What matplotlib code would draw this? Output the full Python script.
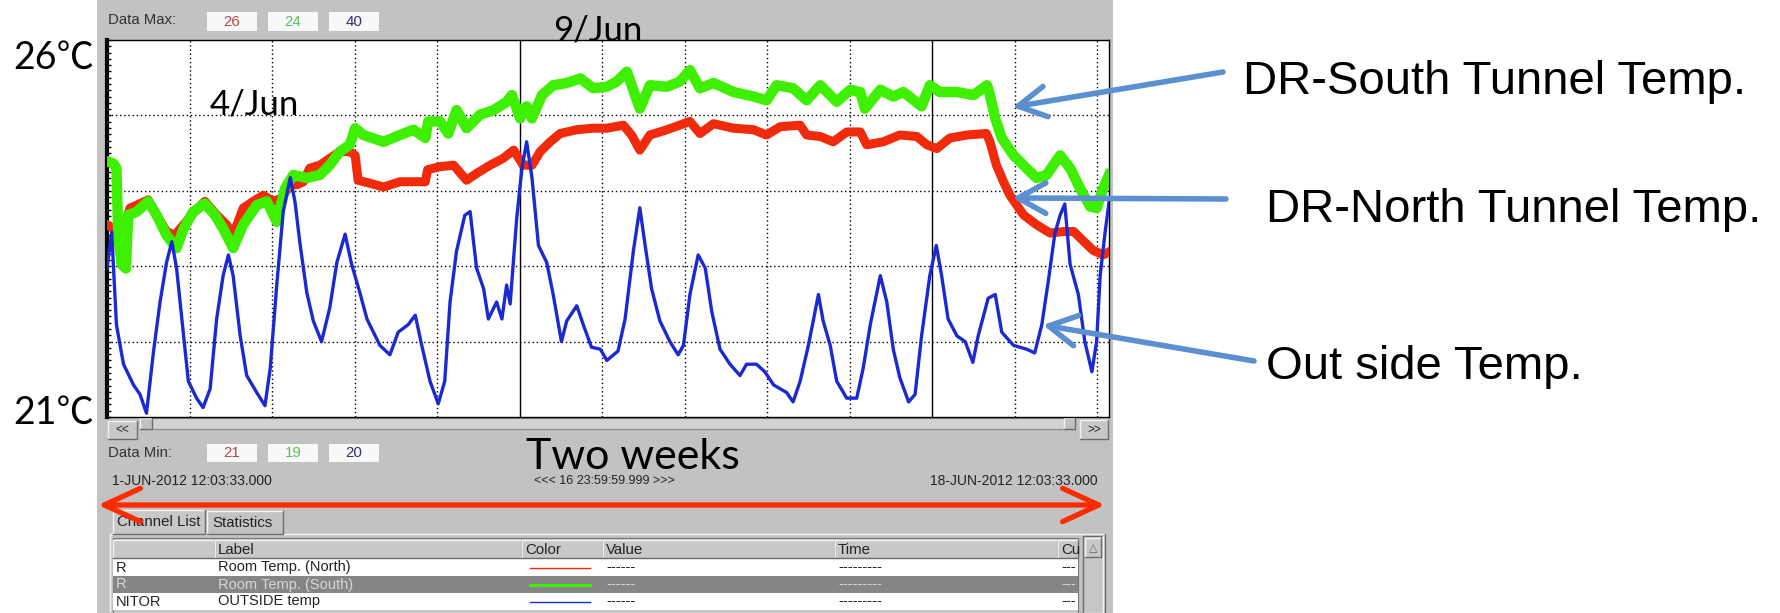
import matplotlib.pyplot as plt
from matplotlib.patches import Rectangle
import numpy as np

W, H = 1780, 613
plt.rcParams['font.family'] = ['Liberation Sans', 'DejaVu Sans']

# channel scales shown in the Data Max / Data Min boxes
data_max = [26, 24, 40]
data_min = [21, 19, 20]
max_colors = ['#b04848', '#5cc05c', '#30306a']

channel_ids = ['R', 'R', 'NITOR']
channel_labels = ['Room Temp. (North)', 'Room Temp. (South)', 'OUTSIDE temp']
table_headers = ['', 'Label', 'Color', 'Value', 'Time', 'Cu']

start_label = '1-JUN-2012 12:03:33.000'
span_label = '<<< 16 23:59:59.999 >>>'
end_label = '18-JUN-2012 12:03:33.000'

# time in days since 1-Jun 12:03, temperatures in degC
north_t = [0, 0.11, 0.22, 0.31, 0.39, 0.56, 0.70, 0.84, 1.01, 1.15,
           1.30, 1.46, 1.66, 1.86, 2.03, 2.14, 2.31, 2.48, 2.65, 2.82,
           2.96, 3.11, 3.22, 3.33, 3.44, 3.61, 3.78, 3.95, 4.12, 4.21,
           4.26, 4.46, 4.69, 4.97, 5.40, 5.44, 5.65, 5.88, 6.10, 6.27,
           6.50, 6.72, 6.90, 7.06, 7.21, 7.35, 7.52, 7.69, 7.97, 8.25,
           8.48, 8.76, 8.90, 9.04, 9.21, 9.50, 9.89, 10.06, 10.29, 10.63,
           10.97, 11.19, 11.42, 11.76, 11.87, 12.10, 12.32, 12.55, 12.78, 12.89,
           13.17, 13.45, 13.74, 13.91, 14.08, 14.30, 14.59, 14.92, 14.98, 15.09,
           15.21, 15.32, 15.55, 15.77, 16.00, 16.23, 16.40, 16.57, 16.73, 16.90,
           17.0]
north_temp = [23.55, 23.50, 23.46, 23.55, 23.77, 23.83, 23.88, 23.68, 23.46, 23.41,
              23.55, 23.70, 23.86, 23.68, 23.55, 23.41, 23.77, 23.86, 23.94, 23.86,
              23.90, 24.08, 24.08, 24.12, 24.30, 24.34, 24.43, 24.52, 24.52, 24.47,
              24.14, 24.10, 24.05, 24.12, 24.12, 24.28, 24.32, 24.34, 24.14, 24.23,
              24.34, 24.43, 24.54, 24.34, 24.34, 24.52, 24.65, 24.76, 24.81, 24.83,
              24.83, 24.87, 24.74, 24.54, 24.74, 24.81, 24.92, 24.76, 24.89, 24.83,
              24.81, 24.74, 24.85, 24.87, 24.74, 24.72, 24.65, 24.78, 24.78, 24.61,
              24.65, 24.74, 24.72, 24.61, 24.56, 24.70, 24.74, 24.76, 24.65, 24.34,
              24.12, 23.94, 23.68, 23.55, 23.44, 23.46, 23.46, 23.33, 23.21, 23.15,
              23.19]

south_t = [0, 0.11, 0.16, 0.19, 0.25, 0.32, 0.36, 0.50, 0.70, 0.84,
           1.01, 1.18, 1.30, 1.46, 1.66, 1.83, 1.97, 2.14, 2.31, 2.54,
           2.71, 2.88, 3.02, 3.16, 3.39, 3.61, 3.78, 3.95, 4.12, 4.21,
           4.35, 4.69, 4.97, 5.20, 5.40, 5.45, 5.65, 5.79, 5.93, 6.10,
           6.33, 6.56, 6.78, 6.87, 7.01, 7.12, 7.21, 7.38, 7.57, 7.80,
           8.03, 8.25, 8.48, 8.65, 8.82, 9.04, 9.21, 9.50, 9.72, 9.89,
           10.06, 10.29, 10.63, 10.97, 11.19, 11.36, 11.64, 11.87, 12.10, 12.38,
           12.61, 12.78, 12.86, 13.12, 13.34, 13.51, 13.82, 13.96, 14.13, 14.42,
           14.70, 14.93, 14.98, 15.07, 15.18, 15.38, 15.60, 15.77, 15.94, 16.17,
           16.34, 16.51, 16.68, 16.79, 16.90, 17.0]
south_temp = [22.39, 22.36, 22.30, 21.41, 21.02, 20.97, 21.68, 21.72, 21.86, 21.68,
              21.41, 21.24, 21.50, 21.72, 21.83, 21.68, 21.50, 21.24, 21.55, 21.81,
              21.86, 21.59, 22.03, 22.21, 22.17, 22.21, 22.34, 22.52, 22.61, 22.83,
              22.74, 22.65, 22.74, 22.81, 22.70, 22.92, 22.92, 22.76, 23.07, 22.83,
              23.01, 23.07, 23.18, 23.27, 22.96, 23.12, 22.96, 23.27, 23.40, 23.43,
              23.49, 23.36, 23.38, 23.45, 23.58, 23.09, 23.40, 23.38, 23.45, 23.60,
              23.36, 23.43, 23.31, 23.25, 23.20, 23.40, 23.36, 23.20, 23.40, 23.18,
              23.34, 23.31, 23.09, 23.34, 23.25, 23.31, 23.12, 23.40, 23.31, 23.31,
              23.27, 23.40, 23.27, 22.96, 22.70, 22.47, 22.30, 22.17, 22.21, 22.47,
              22.30, 22.03, 21.79, 21.77, 22.03, 22.21]

outside_t = [0, 0.08, 0.16, 0.28, 0.45, 0.56, 0.67, 0.79, 0.90, 1.01,
             1.10, 1.18, 1.30, 1.38, 1.52, 1.63, 1.75, 1.86, 1.97, 2.06,
             2.14, 2.26, 2.37, 2.54, 2.68, 2.77, 2.88, 2.99, 3.11, 3.19,
             3.27, 3.39, 3.50, 3.64, 3.78, 3.90, 4.04, 4.15, 4.29, 4.41,
             4.63, 4.80, 4.94, 5.11, 5.23, 5.34, 5.48, 5.62, 5.73, 5.82,
             5.93, 6.07, 6.16, 6.27, 6.39, 6.47, 6.61, 6.70, 6.78, 6.84,
             6.95, 7.04, 7.12, 7.21, 7.32, 7.46, 7.57, 7.71, 7.80, 7.97,
             8.08, 8.22, 8.37, 8.48, 8.67, 8.79, 8.93, 9.04, 9.13, 9.24,
             9.38, 9.55, 9.69, 9.78, 9.89, 10.03, 10.15, 10.26, 10.40, 10.57,
             10.74, 10.85, 11.02, 11.16, 11.31, 11.53, 11.64, 11.76, 11.90, 12.07,
             12.15, 12.27, 12.38, 12.55, 12.72, 12.83, 12.95, 13.12, 13.23, 13.34,
             13.45, 13.60, 13.71, 13.82, 13.96, 14.07, 14.16, 14.27, 14.42, 14.56,
             14.69, 14.78, 14.95, 15.07, 15.18, 15.38, 15.60, 15.74, 15.86, 15.97,
             16.08, 16.17, 16.25, 16.34, 16.48, 16.59, 16.71, 16.79, 16.85, 16.93,
             17.0]
outside_temp = [27.9, 29.8, 24.9, 22.8, 21.7, 21.2, 20.2, 23.5, 26.1, 28.2,
                29.3, 27.9, 24.3, 21.9, 21.0, 20.5, 21.5, 25.2, 27.5, 28.6,
                27.5, 24.3, 22.2, 21.3, 20.6, 22.6, 27.0, 30.9, 32.7, 31.4,
                29.3, 26.6, 25.1, 24.0, 25.8, 28.2, 29.7, 28.1, 26.6, 25.2,
                23.8, 23.3, 24.5, 24.9, 25.4, 23.8, 21.9, 20.7, 21.9, 26.1,
                28.8, 30.7, 30.9, 27.9, 26.8, 25.2, 26.1, 25.2, 27.0, 26.0,
                30.5, 33.2, 34.6, 32.7, 29.1, 28.2, 26.5, 24.0, 25.1, 25.9,
                24.9, 23.7, 23.6, 23.0, 23.5, 25.2, 28.8, 31.1, 29.1, 26.8,
                25.1, 24.0, 23.3, 23.8, 26.5, 28.6, 27.9, 25.6, 23.6, 22.8,
                22.2, 22.8, 22.8, 22.4, 21.7, 21.3, 20.8, 21.9, 23.8, 26.5,
                25.1, 23.8, 21.9, 21.0, 21.0, 22.6, 24.9, 27.5, 26.1, 23.6,
                22.1, 20.8, 21.2, 24.3, 27.5, 29.1, 27.5, 25.2, 24.3, 24.0,
                22.9, 24.3, 26.3, 26.5, 24.5, 23.8, 23.6, 23.4, 24.9, 27.2,
                29.7, 30.7, 31.3, 28.1, 26.5, 24.0, 22.4, 24.0, 27.5, 29.7,
                31.4]

series = [(north_t, north_temp, '#f02a0a', 6.5),
          (south_t, south_temp, '#3ef000', 7.5),
          (outside_t, outside_temp, '#1a2ad0', 2.4)]

fig = plt.figure(figsize=(W / 100, H / 100), dpi=100)

# screen-pixel canvas for the window chrome
deco = fig.add_axes([0, 0, 1, 1], zorder=0)
deco.set_xlim(0, W)
deco.set_ylim(H, 0)
deco.axis('off')


def box(x0, y0, x1, y1, fc, ec='none', lw=1, z=1):
    deco.add_patch(Rectangle((x0, y0), x1 - x0, y1 - y0, fc=fc, ec=ec, lw=lw, zorder=z))


def bevel(x0, y0, x1, y1, fc='#c8c8c8', raised=True, z=2):
    box(x0, y0, x1, y1, fc, z=z)
    hi, lo = ('#f4f4f4', '#6c6c6c') if raised else ('#6c6c6c', '#f4f4f4')
    deco.plot([x0, x0, x1], [y1, y0, y0], color=hi, lw=1, zorder=z + 0.1)
    deco.plot([x0, x1, x1], [y1, y1, y0], color=lo, lw=1, zorder=z + 0.1)


def ui_text(x, y, s, ha='left', color='#222222', size=10.5, z=4):
    deco.text(x, y, s, ha=ha, va='center', color=color, fontsize=size, zorder=z)


box(97, 0, 1113, H, '#c2c2c2', z=0.5)

# Data Max / Data Min rows
ui_text(108, 20, 'Data Max:', size=10.8, color='#333333')
ui_text(108, 453, 'Data Min:', size=10.8, color='#333333')
box_x = [207, 268, 329]
for bx, vmax, vmin, c in zip(box_x, data_max, data_min, max_colors):
    box(bx, 12, bx + 50, 31, '#f8f8f8', z=2)
    box(bx, 444, bx + 50, 462, '#f8f8f8', z=2)
    ui_text(bx + 25, 21.5, str(vmax), ha='center', color=c, size=10.8)
    ui_text(bx + 25, 453, str(vmin), ha='center', color=c, size=10.8)

# horizontal scroll bar under the plot
bevel(108, 421, 137, 439)
ui_text(122.5, 430, '<<', ha='center', size=8.5)
box(140, 418, 1075, 429, '#d2d2d2', ec='#8a8a8a', lw=0.8, z=2)
bevel(140, 418, 152, 429, fc='#c0c0c0')
bevel(1064, 418, 1075, 429, fc='#c0c0c0')
bevel(1080, 420, 1108, 439)
ui_text(1094, 430, '>>', ha='center', size=8.5)

ui_text(112, 481, start_label, size=10)
ui_text(604, 481, span_label, ha='center', size=9)
ui_text(1098, 481, end_label, ha='right', size=10)

deco.text(633, 457, 'Two weeks', ha='center', va='center', fontsize=31,
          family=['Lato', 'DejaVu Sans'], zorder=4)

# tabs and channel table
bevel(113, 510, 205, 534, fc='#c8c8c8')
bevel(207, 511, 283, 534, fc='#c3c3c3')
ui_text(117, 522.5, 'Channel List', size=10.8)
ui_text(212, 523, 'Statistics', size=10.8)
bevel(110, 534, 1105, 613, fc='#c3c3c3', raised=True, z=1.5)
box(113, 538, 1078, 613, '#c8c8c8', ec='#777777', lw=0.8, z=1.8)

col_x = [113, 215, 522, 603, 835, 1058, 1078]
for i, head in enumerate(table_headers):
    bevel(col_x[i], 540, col_x[i + 1], 558)
    ui_text(col_x[i] + 3, 549.5, head, size=10.8)

row_fc = ['#ffffff', '#858585', '#ffffff']
row_tc = ['#222222', '#d8d8d8', '#222222']
for r in range(3):
    y0 = 559 + 17 * r
    box(113, y0, 1078, y0 + 17, row_fc[r], z=2)
    yc = y0 + 8.5
    ui_text(116, yc, channel_ids[r], color=row_tc[r])
    ui_text(218, yc, channel_labels[r], color=row_tc[r])
    deco.plot([530, 590], [yc, yc], color=series[r][2], lw=1.0 + 1.2 * (r == 1), zorder=3)
    ui_text(606, yc, '------', color=row_tc[r])
    ui_text(838, yc, '---------', color=row_tc[r])
    ui_text(1061, yc, '---', color=row_tc[r])

bevel(1083, 536, 1103, 613, fc='#c6c6c6', raised=False)
bevel(1085, 538, 1101, 557)
ui_text(1093, 548, '\u25b3', ha='center', size=8, color='#666666')

# trend plot
ax = fig.add_axes([107 / W, (H - 417) / H, 1002 / W, 377 / H], zorder=1)
ax.set_xlim(0, 17)
ax.set_ylim(0, 1)
ax.set_facecolor('white')

grid_t = np.arange(1.4, 17, 1.4)
for k, gt in enumerate(grid_t, start=1):
    if k % 5 == 0:
        ax.axvline(gt, color='black', lw=1.0, zorder=1)
    else:
        ax.axvline(gt, color='black', lw=1.0, ls=(0, (1, 2)), zorder=1)
for gy in [0.2, 0.4, 0.6, 0.8]:
    ax.axhline(gy, color='black', lw=1.0, ls=(0, (1, 2)), zorder=1)

for (t, v, c, lw), lo, hi in zip(series, data_min, data_max):
    frac = (np.array(v) - lo) / (hi - lo)
    ax.plot(t, frac, color=c, lw=lw, solid_joinstyle='round', zorder=3)

ax.set_xticks([])
ax.set_yticks([])
ax.set_yticks(np.linspace(0, 1, 61), minor=True)
ax.tick_params(axis='y', which='minor', direction='in', length=3, width=1, color='black')
for side in ['top', 'right', 'bottom']:
    ax.spines[side].set_linewidth(1.0)
ax.spines['left'].set_linewidth(3.0)

# annotations
big = ['Lato', 'Noto Sans CJK JP', 'DejaVu Sans']
fig.text(54, 58, '26\u2103', transform=deco.transData, ha='center', va='center',
         fontsize=27, family=big)
fig.text(54, 413, '21\u2103', transform=deco.transData, ha='center', va='center',
         fontsize=27, family=big)
fig.text(210, 105, '4/Jun', transform=deco.transData, ha='left', va='center',
         fontsize=25, family=big, zorder=6)
fig.text(553, 30, '9/Jun', transform=deco.transData, ha='left', va='center',
         fontsize=25, family=big, zorder=6)

labels = ['DR-South Tunnel Temp.', 'DR-North Tunnel Temp.', 'Out side Temp.']
label_pos = [(1243, 82), (1266, 210), (1266, 367)]
arrow_tail = [(1223, 72), (1226, 199), (1254, 361)]
arrow_tip = [(15.36, 0.822), (15.36, 0.581), (15.88, 0.244)]
for s, (lx, ly) in zip(labels, label_pos):
    deco.text(lx, ly, s, ha='left', va='center', fontsize=34, zorder=4)
for tail, tip in zip(arrow_tail, arrow_tip):
    ax.annotate('', xy=tip, xycoords='data', xytext=tail, textcoords=deco.transData,
                arrowprops=dict(arrowstyle='->,head_length=1.0,head_width=0.55',
                                color='#5b8fd0', lw=4.0, mutation_scale=20,
                                shrinkA=0, shrinkB=0), zorder=6)

deco.annotate('', xy=(98, 505), xytext=(1105, 505),
              arrowprops=dict(arrowstyle='<->,head_length=1.3,head_width=0.6',
                              color='#ff2a00', lw=3.8, mutation_scale=20,
                              shrinkA=0, shrinkB=0), zorder=5)

fig.savefig('out.png', dpi=100)
